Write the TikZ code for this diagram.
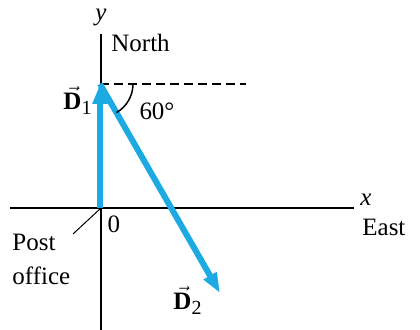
\documentclass[tikz,border=0pt]{standalone}
\usepackage{fontspec}
\setmainfont{Liberation Serif}
\usetikzlibrary{arrows.meta,calc}
\definecolor{vecblue}{HTML}{1CAAE2}
\newcommand{\vecD}[1]{$\vec{\hbox{\bfseries D}}_{\hbox{\fontsize{10}{11}\selectfont #1}}$}
\tikzset{
  axis/.style={line width=0.75pt,black},
  vecarrow/.style={vecblue,line width=3pt,-{Triangle[length=10pt,width=7pt]}},
  lbl/.style={font=\fontsize{12.5}{17}\selectfont,inner sep=0pt}
}
\begin{document}
\begin{tikzpicture}[x=0.5pt,y=-0.5pt]
  \useasboundingbox (0,0) rectangle (420,330);
  % axes
  \coordinate (O) at (101,208);
  \coordinate (xl) at (10,208);
  \coordinate (xr) at (354,208);
  \coordinate (yt) at (101,34);
  \coordinate (yb) at (101,330);
  \draw[axis] (xl) -- (xr);
  \draw[axis] (yb) -- (yt);
  % vectors
  \coordinate (P) at (100,84);
  \coordinate (Q) at (220,293);
  \coordinate (dashend) at (246,84);
  \draw[vecarrow] ($(O)+(-1,0)$) -- (P);
  \draw[axis,dash pattern=on 4.5pt off 2.5pt] (P) -- (dashend);
  \draw[vecarrow] (P) -- (Q);
  \draw[axis] ($(P)+(33,0)$) arc[start angle=0,end angle=60,radius=33];
  % labels
  \node[lbl,font=\fontsize{12.5}{14}\selectfont\itshape] (ylbl) at (101,17) {y};
  \node[lbl,anchor=west] (north) at (111,43) {North};
  \node[lbl] (d1) at (78,100) {\vecD{1}};
  \node[lbl] (ang) at (157,111) {60°};
  \node[lbl] (zero) at (114,224) {0};
  \node[lbl,anchor=west,align=left] (post) at (12,259) {Post\\office};
  \coordinate (lead) at (73,234);
  \draw[line width=0.5pt] (lead) -- (O);
  \node[lbl,font=\fontsize{12.5}{14}\selectfont\itshape] (xlbl) at (366,200) {x};
  \node[lbl,anchor=west] (east) at (362,227) {East};
  \node[lbl] (d2) at (188,300) {\vecD{2}};
\end{tikzpicture}
\end{document}
